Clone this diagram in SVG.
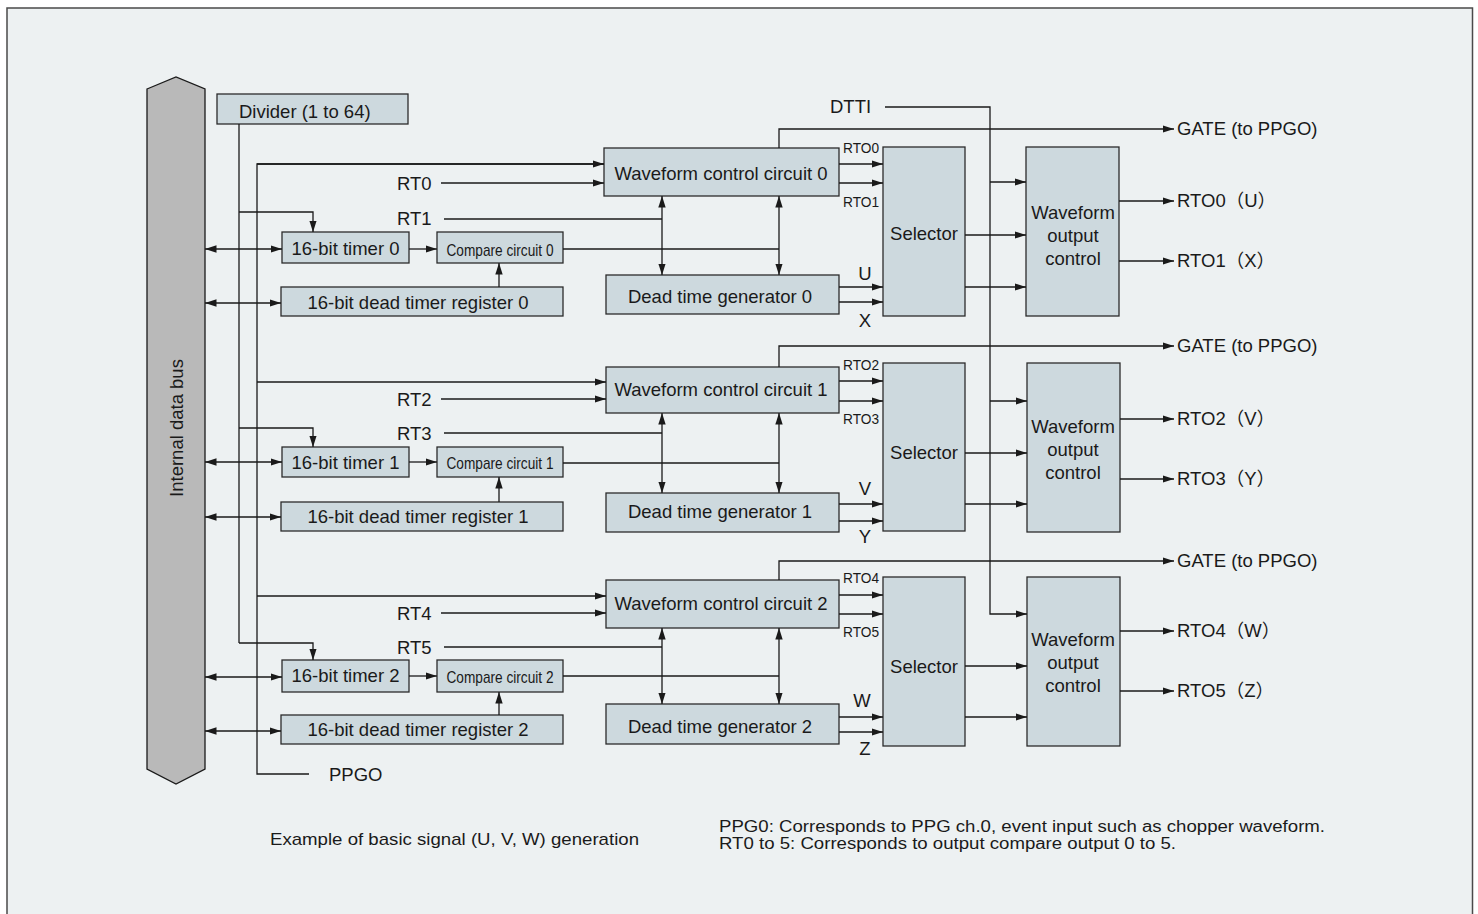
<svg xmlns="http://www.w3.org/2000/svg" width="1478" height="914" viewBox="0 0 1478 914">
<style>
.bg{fill:#edf1f2;stroke:#4a4a4a;stroke-width:1.5}
.box{fill:#cdd9de;stroke:#2b2b2b;stroke-width:1.3}
.t{font-family:"Liberation Sans",Arial,"Noto Sans CJK JP",sans-serif;font-size:18.5px;fill:#1a1a1a}
.c{text-anchor:middle}
.s{font-size:14px}
.n{font-size:17px}
.m{font-size:16px}
.w{fill:none;stroke:#1a1a1a;stroke-width:1.3}
.a{marker-end:url(#ah)}
.b{marker-start:url(#ah);marker-end:url(#ah)}
</style>
<defs>
<marker id="ah" markerWidth="12" markerHeight="9" refX="11.5" refY="4.5" orient="auto-start-reverse" markerUnits="userSpaceOnUse">
<path d="M0,0.8 L11.5,4.5 L0,8.2 Z" fill="#1a1a1a"/>
</marker>
</defs>
<rect class="bg" x="7" y="8" width="1465.5" height="920"/>

<g id="bus">
<polygon points="147,89 176,77 205,89 205,769 176,784 147,769" fill="#b9b9b9" stroke="#1a1a1a" stroke-width="1.3"/>
<text class="t c" transform="translate(183,428) rotate(-90)">Internal data bus</text>
</g>

<g id="divider"><rect class="box" x="217" y="94" width="191" height="30"/><text class="t" x="239" y="118">Divider (1 to 64)</text></g>

<g id="timer0"><rect class="box" x="282" y="232" width="127" height="31"/><text class="t c" x="345.5" y="255">16-bit timer 0</text></g>
<g id="compare0"><rect class="box" x="437" y="232" width="126" height="31"/><text class="t c n" x="500" y="256" textLength="107" lengthAdjust="spacingAndGlyphs">Compare circuit 0</text></g>
<g id="deadreg0"><rect class="box" x="281" y="287" width="282" height="29"/><text class="t c" x="418" y="309">16-bit dead timer register 0</text></g>
<g id="wcc0"><rect class="box" x="604" y="148" width="235" height="48"/><text class="t c" x="721" y="180">Waveform control circuit 0</text></g>
<g id="dtg0"><rect class="box" x="606" y="275" width="233" height="39"/><text class="t c" x="720" y="303">Dead time generator 0</text></g>
<g id="sel0"><rect class="box" x="883" y="147" width="82" height="169"/><text class="t c" x="924" y="240">Selector</text></g>
<g id="woc0"><rect class="box" x="1026" y="147" width="93" height="169"/><text class="t c" x="1073" y="219">Waveform</text><text class="t c" x="1073" y="242">output</text><text class="t c" x="1073" y="265">control</text></g>

<g id="timer1"><rect class="box" x="282" y="447" width="127" height="30"/><text class="t c" x="345.5" y="469">16-bit timer 1</text></g>
<g id="compare1"><rect class="box" x="437" y="447" width="126" height="30"/><text class="t c n" x="500" y="469" textLength="107" lengthAdjust="spacingAndGlyphs">Compare circuit 1</text></g>
<g id="deadreg1"><rect class="box" x="281" y="502" width="282" height="29"/><text class="t c" x="418" y="523">16-bit dead timer register 1</text></g>
<g id="wcc1"><rect class="box" x="606" y="367" width="233" height="46"/><text class="t c" x="721" y="396">Waveform control circuit 1</text></g>
<g id="dtg1"><rect class="box" x="606" y="493" width="233" height="39"/><text class="t c" x="720" y="518">Dead time generator 1</text></g>
<g id="sel1"><rect class="box" x="883" y="363" width="82" height="168"/><text class="t c" x="924" y="459">Selector</text></g>
<g id="woc1"><rect class="box" x="1027" y="363" width="93" height="169"/><text class="t c" x="1073" y="433">Waveform</text><text class="t c" x="1073" y="456">output</text><text class="t c" x="1073" y="479">control</text></g>

<g id="timer2"><rect class="box" x="282" y="660" width="127" height="32"/><text class="t c" x="345.5" y="682">16-bit timer 2</text></g>
<g id="compare2"><rect class="box" x="437" y="660" width="126" height="32"/><text class="t c n" x="500" y="683" textLength="107" lengthAdjust="spacingAndGlyphs">Compare circuit 2</text></g>
<g id="deadreg2"><rect class="box" x="281" y="715" width="282" height="29"/><text class="t c" x="418" y="736">16-bit dead timer register 2</text></g>
<g id="wcc2"><rect class="box" x="606" y="580" width="233" height="48"/><text class="t c" x="721" y="610">Waveform control circuit 2</text></g>
<g id="dtg2"><rect class="box" x="606" y="704" width="233" height="40"/><text class="t c" x="720" y="733">Dead time generator 2</text></g>
<g id="sel2"><rect class="box" x="883" y="577" width="82" height="169"/><text class="t c" x="924" y="673">Selector</text></g>
<g id="woc2"><rect class="box" x="1027" y="577" width="93" height="169"/><text class="t c" x="1073" y="646">Waveform</text><text class="t c" x="1073" y="669">output</text><text class="t c" x="1073" y="692">control</text></g>

<g id="connectors">
<path class="w" d="M239,124 V643"/>
<path class="w a" d="M239,212 H313 V232"/>
<path class="w a" d="M239,428 H313 V447"/>
<path class="w a" d="M239,643 H313 V660"/>
<path class="w" d="M604,164 H257 V774 H309"/>
<path class="w a" d="M257,164 H604"/>
<path class="w a" d="M257,382 H606"/>
<path class="w a" d="M257,596 H606"/>
<path class="w a" d="M441,183 H604"/>
<path class="w" d="M444,219 H662"/>
<path class="w a" d="M441,399 H606"/>
<path class="w" d="M444,433 H662"/>
<path class="w a" d="M441,613 H606"/>
<path class="w" d="M444,647 H662"/>
<path class="w b" d="M205,249 H282"/>
<path class="w b" d="M205,303 H281"/>
<path class="w b" d="M205,462 H282"/>
<path class="w b" d="M205,517 H281"/>
<path class="w b" d="M205,677 H282"/>
<path class="w b" d="M205,731 H281"/>
<path class="w a" d="M409,249 H437"/>
<path class="w a" d="M409,462 H437"/>
<path class="w a" d="M409,676 H437"/>
<path class="w a" d="M499,287 V263"/>
<path class="w a" d="M499,502 V477"/>
<path class="w a" d="M499,715 V692"/>
<path class="w" d="M563,249 H779"/>
<path class="w" d="M563,463 H779"/>
<path class="w" d="M563,676 H779"/>
<path class="w b" d="M662,196 V275"/>
<path class="w b" d="M779,196 V275"/>
<path class="w b" d="M662,413 V493"/>
<path class="w b" d="M779,413 V493"/>
<path class="w b" d="M662,628 V704"/>
<path class="w b" d="M779,628 V704"/>
<path class="w a" d="M839,164 H883"/>
<path class="w a" d="M839,183 H883"/>
<path class="w a" d="M839,287 H883"/>
<path class="w a" d="M839,302 H883"/>
<path class="w a" d="M839,381 H883"/>
<path class="w a" d="M839,401 H883"/>
<path class="w a" d="M839,504 H883"/>
<path class="w a" d="M839,521 H883"/>
<path class="w a" d="M839,595 H883"/>
<path class="w a" d="M839,614 H883"/>
<path class="w a" d="M839,717 H883"/>
<path class="w a" d="M839,732 H883"/>
<path class="w a" d="M779,148 V129 H1174"/>
<path class="w a" d="M779,367 V346 H1174"/>
<path class="w a" d="M779,580 V561 H1174"/>
<path class="w a" d="M885,107 H990 V614 H1027"/>
<path class="w a" d="M990,182 H1026"/>
<path class="w a" d="M990,401 H1027"/>
<path class="w a" d="M965,235 H1026"/>
<path class="w a" d="M965,287 H1026"/>
<path class="w a" d="M965,453 H1027"/>
<path class="w a" d="M965,504 H1027"/>
<path class="w a" d="M965,666 H1027"/>
<path class="w a" d="M965,717 H1027"/>
<path class="w a" d="M1119,201 H1174"/>
<path class="w a" d="M1119,261 H1174"/>
<path class="w a" d="M1120,419 H1174"/>
<path class="w a" d="M1120,479 H1174"/>
<path class="w a" d="M1120,631 H1174"/>
<path class="w a" d="M1120,691 H1174"/>
</g>

<g id="labels">
<text class="t" x="397" y="190">RT0</text>
<text class="t" x="397" y="225">RT1</text>
<text class="t" x="397" y="406">RT2</text>
<text class="t" x="397" y="440">RT3</text>
<text class="t" x="397" y="620">RT4</text>
<text class="t" x="397" y="654">RT5</text>
<text class="t" x="329" y="781">PPGO</text>
<text class="t" x="830" y="113">DTTI</text>
<text class="t s" x="843" y="153" textLength="36" lengthAdjust="spacingAndGlyphs">RTO0</text>
<text class="t s" x="843" y="207" textLength="36" lengthAdjust="spacingAndGlyphs">RTO1</text>
<text class="t s" x="843" y="370" textLength="36" lengthAdjust="spacingAndGlyphs">RTO2</text>
<text class="t s" x="843" y="424" textLength="36" lengthAdjust="spacingAndGlyphs">RTO3</text>
<text class="t s" x="843" y="583" textLength="36" lengthAdjust="spacingAndGlyphs">RTO4</text>
<text class="t s" x="843" y="637" textLength="36" lengthAdjust="spacingAndGlyphs">RTO5</text>
<text class="t c" x="865" y="280">U</text>
<text class="t c" x="865" y="327">X</text>
<text class="t c" x="865" y="495">V</text>
<text class="t c" x="865" y="543">Y</text>
<text class="t c" x="862" y="707">W</text>
<text class="t c" x="865" y="755">Z</text>
<text class="t" x="1177" y="135">GATE (to PPGO)</text>
<text class="t" x="1177" y="352">GATE (to PPGO)</text>
<text class="t" x="1177" y="567">GATE (to PPGO)</text>
<text class="t" x="1177" y="207">RTO0（U）</text>
<text class="t" x="1177" y="267">RTO1（X）</text>
<text class="t" x="1177" y="425">RTO2（V）</text>
<text class="t" x="1177" y="485">RTO3（Y）</text>
<text class="t" x="1177" y="637">RTO4（W）</text>
<text class="t" x="1177" y="697">RTO5（Z）</text>
<text class="t n" x="270" y="845" textLength="369" lengthAdjust="spacingAndGlyphs">Example of basic signal (U, V, W) generation</text>
<text class="t m" x="719" y="832" textLength="606" lengthAdjust="spacingAndGlyphs">PPG0: Corresponds to PPG ch.0, event input such as chopper waveform.</text>
<text class="t m" x="719" y="849" textLength="457" lengthAdjust="spacingAndGlyphs">RT0 to 5: Corresponds to output compare output 0 to 5.</text>
</g>
</svg>
